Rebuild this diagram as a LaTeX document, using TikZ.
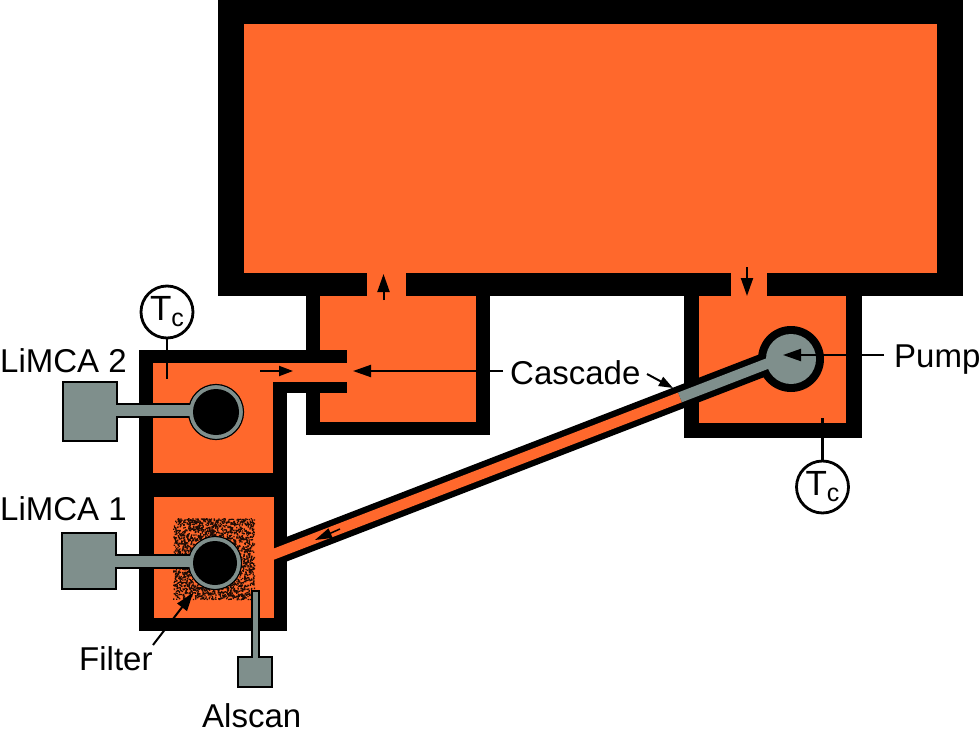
\documentclass[tikz,border=0pt]{standalone}
\usepackage{fontspec}
\setmainfont{Liberation Sans}
\usetikzlibrary{arrows.meta}
\definecolor{melt}{HTML}{FF682C}
\definecolor{probe}{HTML}{7F8F8C}
\newcommand{\tctext}{T\raisebox{-6bp}{\fontsize{25bp}{26bp}\selectfont c}}
\begin{document}
\begin{tikzpicture}[x=1bp,y=-1bp,
  wall/.style={fill=black,draw=none},
  liquid/.style={fill=melt,draw=none},
  device/.style={fill=probe,draw=black,line width=1.2bp},
  devfill/.style={fill=probe,draw=none},
  lab/.style={font=\fontsize{33bp}{36bp}\selectfont,inner sep=0pt,anchor=base west,text=black},
  tcnode/.style={circle,draw=black,fill=white,line width=2.8bp,minimum size=52bp,inner sep=0pt,font=\fontsize{35bp}{36bp}\selectfont},
  tcline/.style={draw=black,line width=2.8bp},
  pointer/.style={draw=black,line width=2bp,-{Triangle[length=18bp,width=12bp]}},
  smallptr/.style={draw=black,line width=2bp,-{Triangle[length=14bp,width=10bp]}}]
\useasboundingbox (0,0) rectangle (980,730);
% black walls
\fill[wall] (218,0) rectangle (963,296);
\fill[wall] (306,296) rectangle (490,435);
\fill[wall] (684,296) rectangle (862,438);
\fill[wall] (139,350) rectangle (287,631);
% liquid
\fill[liquid] (244,24) rectangle (937,273);
\fill[liquid] (367,270) rectangle (406,300);
\fill[liquid] (731,270) rectangle (767,300);
\fill[liquid] (320,296) rectangle (476,422);
\fill[liquid] (699,296) rectangle (846,423);
\fill[wall] (287,350) rectangle (347,363);
\fill[wall] (273,382) rectangle (347,393);
\fill[liquid] (153,363) rectangle (273,473);
\fill[liquid] (270,363) rectangle (347,382);
\fill[liquid] (154,497) rectangle (274,618);
% filter
\pgfmathsetseed{7}
\fill[melt!12!black] \foreach \i in {1,...,2600}{ ({173+81*rnd},{518+81*rnd}) rectangle +(1.3,1.3) };
% diagonal pipe and pump
\coordinate (pipeA) at (270,555.6);
\coordinate (pipeB) at (680,397.4);
\coordinate (pipeC) at (775,360.6);
\coordinate (pipeW) at (282,551);
\node[circle,fill=black,minimum size=66bp,inner sep=0pt] (pumpring) at (791,359) {};
\draw[line width=23bp,black] (pipeW) -- (pipeC);
\draw[line width=10.5bp,melt] (pipeA) -- (pipeB);
\draw[line width=10.5bp,probe] (pipeB) -- (pipeC);
\node[circle,fill=probe,minimum size=50bp,inner sep=0pt] (pumpcore) at (791,359) {};
% LiMCA 2 probe
\draw[device] (63,382) rectangle (117,441);
\draw[device] (117,404) rectangle (195,417);
\draw[device] (216,412) circle (27.5);
\fill[devfill] (112,404.7) rectangle (200,416.3);
\fill[devfill] (216,412) circle (26.5);
\node[circle,fill=black,minimum size=46bp,inner sep=0pt] (limcaB) at (216,412) {};
% LiMCA 1 probe
\draw[device] (62,533) rectangle (116,589);
\draw[device] (116,555) rectangle (195,568);
\draw[device] (215,563) circle (26.5);
\fill[devfill] (111,555.7) rectangle (200,567.3);
\fill[devfill] (215,563) circle (25.5);
\node[circle,fill=black,minimum size=44bp,inner sep=0pt] (limcaA) at (215,563) {};
% Alscan probe
\draw[device] (252,591) rectangle (259,657);
\draw[device] (238,657) rectangle (272,687);
\fill[devfill] (252.6,650) rectangle (258.4,658);
% thermocouples
\node[tcnode] (tcA) at (167,312) {\tctext};
\coordinate (tcAend) at (167,379);
\draw[tcline] (tcA.south) -- (tcAend);
\node[tcnode] (tcB) at (822.5,487) {\tctext};
\coordinate (tcBend) at (822.5,418);
\draw[tcline] (tcB.north) -- (tcBend);
% labels
\node[lab] (limcaBl) at (0,372) {LiMCA 2};
\node[lab] (limcaAl) at (0,520) {LiMCA 1};
\node[lab] (filterl) at (79,670) {Filter};
\node[lab] (alscanl) at (202,727) {Alscan};
\node[lab] (cascadel) at (510,384) {Cascade};
\node[lab] (pumpl) at (894,367) {Pump};
% arrows
\coordinate (casA) at (503,371);
\coordinate (casAtip) at (353,371);
\draw[pointer] (casA) -- (casAtip);
\coordinate (casB) at (647,374);
\coordinate (casBtip) at (673,388);
\draw[smallptr] (casB) -- (casBtip);
\coordinate (pumpA) at (884,355);
\coordinate (pumpTip) at (783,355);
\draw[pointer] (pumpA) -- (pumpTip);
\coordinate (filA) at (153,645);
\coordinate (filTip) at (193,593);
\draw[pointer] (filA) -- (filTip);
\coordinate (upA) at (383.5,300);
\coordinate (upTip) at (383.5,274);
\draw[pointer] (upA) -- (upTip);
\coordinate (dnA) at (747,267);
\coordinate (dnTip) at (747,296);
\draw[pointer] (dnA) -- (dnTip);
\coordinate (chA) at (260,371);
\coordinate (chTip) at (293,371);
\draw[smallptr] (chA) -- (chTip);
\coordinate (pipeArrA) at (340,529);
\coordinate (pipeArrTip) at (315,540);
\draw[draw=black,line width=1.5bp,-{Triangle[length=17bp,width=10bp]}] (pipeArrA) -- (pipeArrTip);
\end{tikzpicture}
\end{document}
